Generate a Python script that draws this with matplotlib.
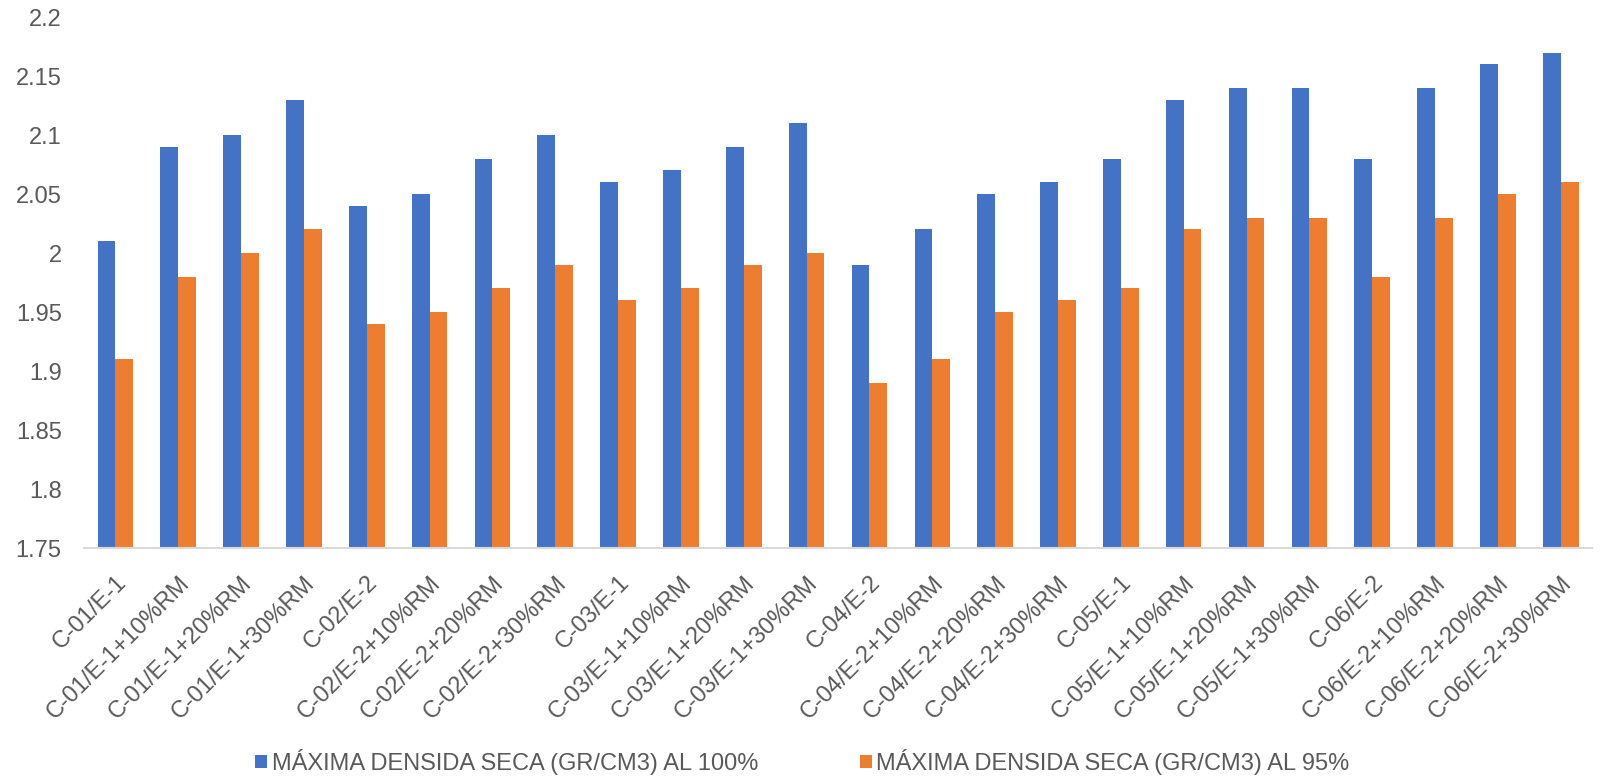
import matplotlib
matplotlib.use("Agg")
from matplotlib import pyplot as plt
import numpy as np

plt.rcParams['font.family'] = ['Liberation Sans', 'DejaVu Sans']

categories = [
    "C-01/E-1", "C-01/E-1+10%RM", "C-01/E-1+20%RM", "C-01/E-1+30%RM",
    "C-02/E-2", "C-02/E-2+10%RM", "C-02/E-2+20%RM", "C-02/E-2+30%RM",
    "C-03/E-1", "C-03/E-1+10%RM", "C-03/E-1+20%RM", "C-03/E-1+30%RM",
    "C-04/E-2", "C-04/E-2+10%RM", "C-04/E-2+20%RM", "C-04/E-2+30%RM",
    "C-05/E-1", "C-05/E-1+10%RM", "C-05/E-1+20%RM", "C-05/E-1+30%RM",
    "C-06/E-2", "C-06/E-2+10%RM", "C-06/E-2+20%RM", "C-06/E-2+30%RM",
]
densidad_100 = [2.01, 2.09, 2.10, 2.13, 2.04, 2.05, 2.08, 2.10,
                2.06, 2.07, 2.09, 2.11, 1.99, 2.02, 2.05, 2.06,
                2.08, 2.13, 2.14, 2.14, 2.08, 2.14, 2.16, 2.17]
densidad_95 = [1.91, 1.98, 2.00, 2.02, 1.94, 1.95, 1.97, 1.99,
               1.96, 1.97, 1.99, 2.00, 1.89, 1.91, 1.95, 1.96,
               1.97, 2.02, 2.03, 2.03, 1.98, 2.03, 2.05, 2.06]
y_ticks = [1.75, 1.8, 1.85, 1.9, 1.95, 2, 2.05, 2.1, 2.15, 2.2]
y_tick_labels = ["1.75", "1.8", "1.85", "1.9", "1.95", "2", "2.05", "2.1", "2.15", "2.2"]
series_names = ["MÁXIMA DENSIDA SECA (GR/CM3) AL 100%",
                "MÁXIMA DENSIDA SECA (GR/CM3) AL 95%"]

BLUE = "#4472C4"
ORANGE = "#ED7D31"
GRAY = "#595959"

fig = plt.figure(figsize=(16.05, 7.78), dpi=100)
ax = fig.add_axes([0.0523, 0.2956, 0.9397, 0.6824])

x = np.arange(len(categories))
w = 0.283
ax.bar(x - w / 2, densidad_100, w, color=BLUE, label=series_names[0])
ax.bar(x + w / 2, densidad_95, w, color=ORANGE, label=series_names[1])

ax.set_xlim(-0.5, len(categories) - 0.5)
ax.set_ylim(1.75, 2.2)
ax.set_yticks(y_ticks)
ax.set_yticklabels(y_tick_labels)
ax.set_xticks(x)
ax.set_xticklabels(categories, rotation=45, ha="right", rotation_mode="anchor")

for s in ["top", "right", "left"]:
    ax.spines[s].set_visible(False)
ax.spines["bottom"].set_color("#D9D9D9")
ax.spines["bottom"].set_linewidth(1.5)
ax.tick_params(axis="both", length=0, labelsize=17, colors=GRAY)
ax.tick_params(axis="x", pad=17)
ax.tick_params(axis="y", pad=16)

fig.legend(loc="center", bbox_to_anchor=(0.5, 0.0206), ncol=2, frameon=False,
           fontsize=17, handlelength=0.5, handleheight=0.5, handletextpad=0.2,
           columnspacing=4.3, labelcolor=GRAY)

fig.savefig("out.png", dpi=100)
